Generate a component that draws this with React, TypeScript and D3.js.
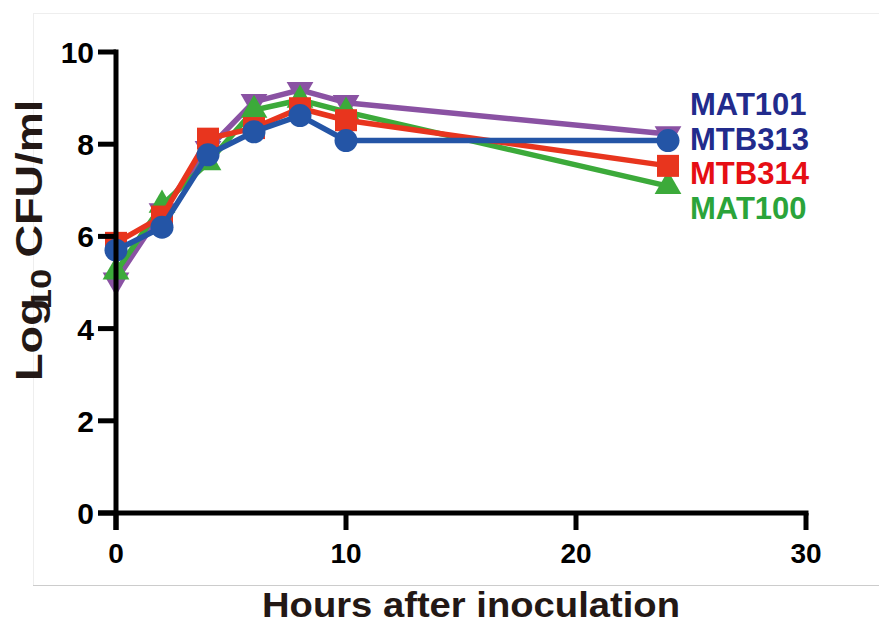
import React from "react";
import * as d3 from "d3";

const hours = [0, 2, 4, 6, 8, 10, 24];
const seriesNames = ["MAT101", "MAT100", "MTB314", "MTB313"];
const mat101 = [5.05, 6.55, 7.9, 8.92, 9.18, 8.9, 8.22];
const mat100 = [5.23, 6.68, 7.6, 8.74, 8.96, 8.7, 7.09];
const mtb314 = [5.86, 6.43, 8.12, 8.35, 8.78, 8.52, 7.53];
const mtb313 = [5.7, 6.2, 7.77, 8.27, 8.62, 8.08, 8.08];
const xTicks = [0, 10, 20, 30];
const yTicks = [0, 2, 4, 6, 8, 10];
const legendLabels = ["MAT101", "MTB313", "MTB314", "MAT100"];

const lineColors: Record<string, string> = {
  MAT101: "#8a52a3",
  MAT100: "#3caa3a",
  MTB314: "#e8351e",
  MTB313: "#2455a6",
};
const legendColors: Record<string, string> = {
  MAT101: "#222b8c",
  MTB313: "#222b8c",
  MTB314: "#e60e14",
  MAT100: "#2ba43a",
};
const valuesByName: Record<string, number[]> = {
  MAT101: mat101,
  MAT100: mat100,
  MTB314: mtb314,
  MTB313: mtb313,
};

const FONT = "'Liberation Sans', Arial, Helvetica, sans-serif";

export default function App() {
  const W = 879, H = 625;
  const x = d3.scaleLinear().domain([0, 30]).range([116, 806]);
  const y = d3.scaleLinear().domain([0, 10]).range([513, 52]);
  const line = d3.line<[number, number]>().x(d => x(d[0])).y(d => y(d[1]));

  const marker = (name: string, cx: number, cy: number, key: string) => {
    const c = lineColors[name];
    if (name === "MTB313") return <circle key={key} cx={cx} cy={cy} r={11.5} fill={c} />;
    if (name === "MTB314") return <rect key={key} x={cx - 11} y={cy - 11} width={22} height={22} fill={c} />;
    if (name === "MAT100") {
      const p = d3.symbol().type(d3.symbolTriangle).size(310)();
      return <path key={key} d={p as string} transform={`translate(${cx},${cy})`} fill={c} />;
    }
    const p = d3.symbol().type(d3.symbolTriangle).size(310)();
    return <path key={key} d={p as string} transform={`translate(${cx},${cy}) rotate(180)`} fill={c} />;
  };

  return (
    <svg width={W} height={H} style={{ position: "absolute", left: 0, top: 0, background: "#fff" }}>
      <rect x={0} y={0} width={W} height={H} fill="#fff" />
      {/* faint frame */}
      <line x1={33} x2={879} y1={13.5} y2={13.5} stroke="#eeeeee" strokeWidth={1} />
      <line x1={33.5} x2={33.5} y1={13} y2={585} stroke="#eeeeee" strokeWidth={1} />
      <line x1={33} x2={879} y1={585.5} y2={585.5} stroke="#cccccc" strokeWidth={1} />

      {/* series */}
      {seriesNames.map(name => {
        const pts = hours.map((h, i) => [h, valuesByName[name][i]] as [number, number]);
        return (
          <g key={name}>
            <path d={line(pts) as string} fill="none" stroke={lineColors[name]} strokeWidth={5.5} strokeLinejoin="round" />
            {pts.map((p, i) => marker(name, x(p[0]), y(p[1]), name + i))}
          </g>
        );
      })}

      {/* axes */}
      <g stroke="#000" strokeWidth={5}>
        <line x1={x(0)} x2={x(0)} y1={y(10) - 2.5} y2={y(0) + 17} />
        <line x1={x(0) - 18} x2={x(30) + 2.5} y1={y(0)} y2={y(0)} />
        {yTicks.map(t => (
          <line key={"yt" + t} x1={x(0) - 18} x2={x(0)} y1={y(t)} y2={y(t)} />
        ))}
        {xTicks.map(t => (
          <line key={"xt" + t} x1={x(t)} x2={x(t)} y1={y(0)} y2={y(0) + 17} />
        ))}
      </g>
      {yTicks.map(t => (
        <text key={"yl" + t} x={94} y={y(t) + 11} textAnchor="end" fontFamily={FONT} fontWeight="bold" fontSize={30} fill="#000">
          {t}
        </text>
      ))}
      {xTicks.map(t => (
        <text key={"xl" + t} x={x(t)} y={563} textAnchor="middle" fontFamily={FONT} fontWeight="bold" fontSize={28} fill="#000">
          {t}
        </text>
      ))}

      {/* axis titles */}
      <text x={471} y={617} textAnchor="middle" textLength={418} lengthAdjust="spacingAndGlyphs" fontFamily={FONT} fontWeight="bold" fontSize={35} fill="#231815">
        Hours after inoculation
      </text>
      <text transform="translate(42,381) rotate(-90) scale(1.22,1)" textAnchor="start" fontFamily={FONT} fontWeight="bold" fontSize={37} fill="#231815">
        <tspan>Log</tspan>
        <tspan dx={-9} dy={9} fontSize={30}>10</tspan>
        <tspan dx={9} dy={-9}>CFU/ml</tspan>
      </text>

      {/* legend */}
      {legendLabels.map((name, i) => (
        <text key={"lg" + name} x={690} y={115 + i * 34.5} fontFamily={FONT} fontWeight="bold" fontSize={31} fill={legendColors[name]}>
          {name}
        </text>
      ))}
    </svg>
  );
}
